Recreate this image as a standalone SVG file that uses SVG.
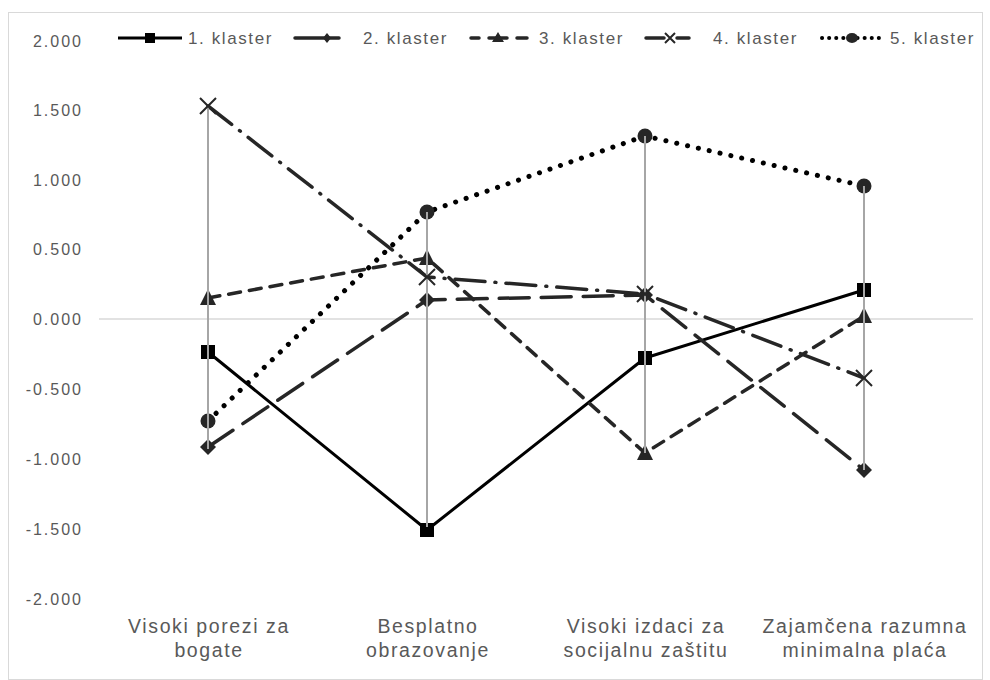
<svg xmlns="http://www.w3.org/2000/svg" width="990" height="680" viewBox="0 0 990 680">
<style>
text{font-family:"Liberation Sans",Arial,sans-serif;fill:#595959}
.ax{font-size:16px;letter-spacing:2px;text-anchor:end}
.lg{font-size:17px;letter-spacing:1.6px}
.cat{font-size:19.5px;letter-spacing:1.6px;text-anchor:middle}
.s1{fill:none;stroke:#000;stroke-width:3;stroke-linejoin:round}
.s2{fill:none;stroke:#262626;stroke-width:3.5;stroke-dasharray:30 12;stroke-linecap:round}
.s3{fill:none;stroke:#262626;stroke-width:3.5;stroke-dasharray:12 9;stroke-linecap:round}
.s4{fill:none;stroke:#262626;stroke-width:3.5;stroke-dasharray:30 10 1 10;stroke-linecap:round}
.s5{fill:none;stroke:#000;stroke-width:5;stroke-dasharray:0.1 11;stroke-linecap:round}
.hl{stroke:#a6a6a6;stroke-width:2}
</style>
<defs>
<rect id="sq" x="-7" y="-7" width="14" height="14" fill="#000"/>
<path id="dm" d="M0,-8 L8,0 L0,8 L-8,0Z" fill="#262626"/>
<path id="tr" d="M0,-9 L8,7 L-8,7Z" fill="#262626"/>
<path id="xx" d="M-8,-8 L8,8 M8,-8 L-8,8" stroke="#262626" stroke-width="2" fill="none"/>
<circle id="ci" r="7.5" fill="#262626"/>
</defs>
<rect x="8.5" y="12.5" width="974" height="667" fill="#fff" stroke="#d9d9d9" stroke-width="1"/>
<g id="axis">
<text class="ax" x="83" y="47">2.000</text>
<text class="ax" x="83" y="116">1.500</text>
<text class="ax" x="83" y="186">1.000</text>
<text class="ax" x="83" y="255">0.500</text>
<text class="ax" x="83" y="325">0.000</text>
<text class="ax" x="83" y="395">-0.500</text>
<text class="ax" x="83" y="465">-1.000</text>
<text class="ax" x="83" y="535">-1.500</text>
<text class="ax" x="83" y="605">-2.000</text>
<line x1="99" y1="319" x2="973" y2="319" stroke="#d9d9d9" stroke-width="1.5"/>
</g>
<g id="categories">
<text class="cat" x="209" y="633">Visoki porezi za</text>
<text class="cat" x="209" y="657">bogate</text>
<text class="cat" x="428" y="633">Besplatno</text>
<text class="cat" x="428" y="657">obrazovanje</text>
<text class="cat" x="646" y="633">Visoki izdaci za</text>
<text class="cat" x="646" y="657">socijalnu zaštitu</text>
<text class="cat" x="865" y="633">Zajamčena razumna</text>
<text class="cat" x="865" y="657">minimalna plaća</text>
</g>
<g id="connectors">
<polyline class="s1" points="208,352 427,530 645,358 864,290"/>
<polyline class="s2" points="208,447 427,300 645,295 864,470"/>
<polyline class="s3" points="208,298 427,258 645,453 864,316"/>
<polyline class="s4" points="208,106 427,277 645,294 864,378"/>
<polyline class="s5" points="208,421 427,212 645,136 864,186"/>
</g>
<g id="markers">
<use href="#sq" x="208" y="352"/><use href="#sq" x="427" y="530"/><use href="#sq" x="645" y="358"/><use href="#sq" x="864" y="290"/>
<use href="#dm" x="208" y="447"/><use href="#dm" x="427" y="300"/><use href="#dm" x="645" y="295"/><use href="#dm" x="864" y="470"/>
<use href="#tr" x="208" y="298"/><use href="#tr" x="427" y="258"/><use href="#tr" x="645" y="453"/><use href="#tr" x="864" y="316"/>
<use href="#ci" x="208" y="421"/><use href="#ci" x="427" y="212"/><use href="#ci" x="645" y="136"/><use href="#ci" x="864" y="186"/>
</g>
<g id="highlow">
<line class="hl" x1="208" y1="106" x2="208" y2="449"/>
<line class="hl" x1="427" y1="212" x2="427" y2="527"/>
<line class="hl" x1="645" y1="136" x2="645" y2="453"/>
<line class="hl" x1="864" y1="186" x2="864" y2="470"/>
</g>
<g id="xmarkers">
<use href="#xx" x="208" y="106"/><use href="#xx" x="427" y="277"/><use href="#xx" x="645" y="294"/><use href="#xx" x="864" y="378"/>
</g>
<g id="legend">
<line x1="118" y1="38" x2="182" y2="38" stroke="#000" stroke-width="3"/>
<rect x="145" y="33" width="10" height="10" fill="#000"/>
<text class="lg" x="188" y="44">1. klaster</text>
<line x1="295" y1="38" x2="339" y2="38" stroke="#262626" stroke-width="3.5" stroke-linecap="round"/>
<path d="M327,33 L331,38 L327,43 L323,38Z" fill="#262626"/>
<text class="lg" x="363" y="44">2. klaster</text>
<line x1="471" y1="38" x2="479" y2="38" stroke="#262626" stroke-width="3.5" stroke-linecap="round"/>
<line x1="489" y1="38" x2="507" y2="38" stroke="#262626" stroke-width="3.5" stroke-linecap="round"/>
<line x1="517" y1="38" x2="527" y2="38" stroke="#262626" stroke-width="3.5" stroke-linecap="round"/>
<path d="M498,32 L504,42 L492,42Z" fill="#262626"/>
<text class="lg" x="539" y="44">3. klaster</text>
<line x1="646" y1="38" x2="664" y2="38" stroke="#262626" stroke-width="3.5" stroke-linecap="round"/>
<line x1="677" y1="38" x2="689" y2="38" stroke="#262626" stroke-width="3.5" stroke-linecap="round"/>
<path d="M665,33 L675,43 M675,33 L665,43" stroke="#262626" stroke-width="2"/>
<text class="lg" x="713" y="44">4. klaster</text>
<line x1="822" y1="38" x2="880" y2="38" stroke="#000" stroke-width="4" stroke-dasharray="0.1 7" stroke-linecap="round"/>
<ellipse cx="852" cy="38" rx="6" ry="5" fill="#262626"/>
<text class="lg" x="890" y="44">5. klaster</text>
</g>
</svg>
